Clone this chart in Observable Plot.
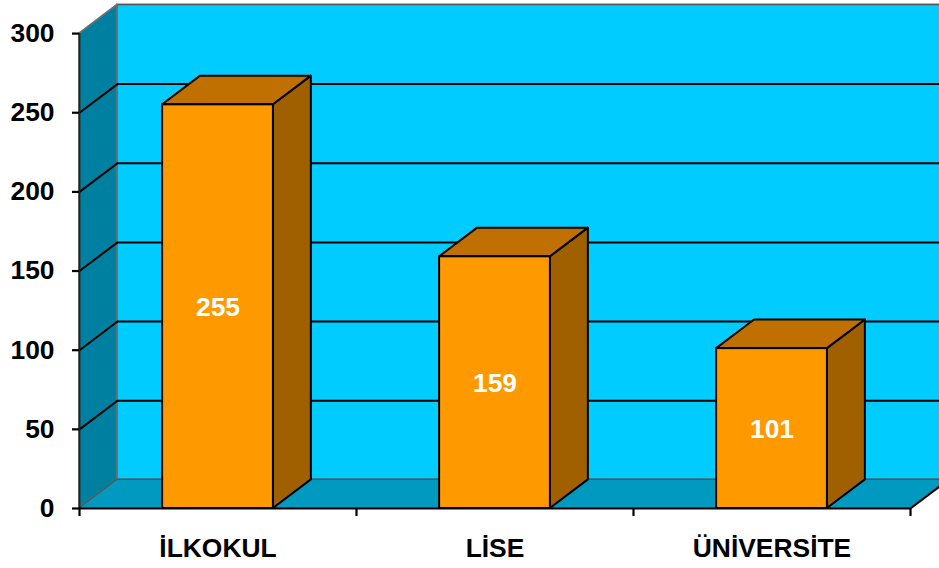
<!DOCTYPE html>
<html>
<head>
<meta charset="utf-8">
<script src="https://cdn.jsdelivr.net/npm/d3@7"></script>
<script src="https://cdn.jsdelivr.net/npm/@observablehq/plot@0.6"></script>
<style>
html,body{margin:0;padding:0;background:#fff;overflow:hidden}
svg{display:block}
</style>
</head>
<body>
<div id="chart"></div>
<script>
const categories = ["İLKOKUL", "LİSE", "ÜNİVERSİTE"];
const values = [255, 159, 101];
const yTicks = [0, 50, 100, 150, 200, 250, 300];
const gridValues = [50, 100, 150, 200, 250];
const slotEdges = [0, 1, 2, 3];

// depth of the 3D box, in data units
const depthX = 0.137;
const depthY = 18.1;
const yMax = 300;
const barPad = 0.3;

const bars = categories.map((name, i) => ({name, i, value: values[i], a: i + barPad, b: i + 1 - barPad}));

// a parallelogram going back in depth
const topFace = (key, xa, xb, y) => [
  {key, x1: xa, x2: xb, y},
  {key, x1: xa + depthX, x2: xb + depthX, y: y + depthY}
];
const sideFace = (key, x, y1, y2) => [
  {key, x, y1, y2},
  {key, x: x + depthX, y1: y1 + depthY, y2: y2 + depthY}
];
const hArea = (rows, fill, stroke, sw) => Plot.area(rows, {x1: "x1", x2: "x2", y1: "y", y2: "y", z: "key", fill, stroke, strokeWidth: sw, curve: "linear"});
const vArea = (rows, fill, stroke, sw) => Plot.area(rows, {x1: "x", x2: "x", y1: "y1", y2: "y2", z: "key", fill, stroke, strokeWidth: sw, curve: "linear"});

const chart = Plot.plot({
  width: 939,
  height: 568,
  marginLeft: 79,
  marginRight: 0,
  marginTop: 0,
  marginBottom: 60,
  style: {background: "#fff", fontFamily: "'Liberation Sans', Arial, sans-serif", overflow: "hidden"},
  x: {domain: [0, 860 / 277], range: [79, 939], axis: null},
  y: {domain: [0, 320.9], range: [508, 0], axis: null},
  marks: [
    // walls and floor
    Plot.rect([0], {x1: depthX, x2: 3 + depthX, y1: depthY, y2: yMax + depthY, fill: "#00CCFF", stroke: "#555", strokeWidth: 1.7}),
    vArea(sideFace("wall", 0, 0, yMax), "#0080A0", "#707070", 1.7),
    hArea(topFace("floor", 0, 3, 0), "#0099C0", "#555", 1.2),
    // gridlines: back wall and the slant on the side wall
    Plot.ruleY(gridValues, {y: d => d + depthY, x1: depthX, x2: 3 + depthX, stroke: "#000", strokeWidth: 2}),
    Plot.link(gridValues, {x1: 0, y1: d => d, x2: depthX, y2: d => d + depthY, stroke: "#000", strokeWidth: 2}),
    Plot.link([3], {x1: d => d, y1: 0, x2: d => d + depthX, y2: depthY, stroke: "#000", strokeWidth: 2}),
    // bars
    ...bars.map(d => vArea(sideFace("s" + d.i, d.b, 0, d.value), "#A06000", "#000", 2)),
    ...bars.map(d => hArea(topFace("t" + d.i, d.a, d.b, d.value), "#C07000", "#000", 2)),
    Plot.rect(bars, {x1: "a", x2: "b", y1: 0, y2: "value", fill: "#FF9900", stroke: "#000", strokeWidth: 2}),
    Plot.text(bars, {x: d => (d.a + d.b) / 2, y: d => d.value / 2, dy: 1, text: d => String(d.value), fill: "#fff", fontSize: 26.4, fontWeight: "bold"}),
    // axes
    Plot.ruleX([0], {y1: 0, y2: yMax, stroke: "#222", strokeWidth: 1.8}),
    Plot.ruleY([0], {x1: 0, x2: 3, stroke: "#000", strokeWidth: 2.2}),
    Plot.axisY({ticks: yTicks, tickSize: 7, tickPadding: 18, label: null, fontSize: 26.4, fontWeight: "bold", fill: "#000", strokeWidth: 2.2}),
    Plot.axisX({ticks: slotEdges, tickSize: 8, tickFormat: () => "", label: null, strokeWidth: 2.2}),
    Plot.axisX({ticks: categories.map((c, i) => i + 0.5), tickSize: 0, tickPadding: 30, tickFormat: d => categories[d - 0.5], label: null, fontSize: 26.4, fontWeight: "bold", fill: "#000"})
  ]
});
document.getElementById("chart").append(chart);
</script>
</body>
</html>
